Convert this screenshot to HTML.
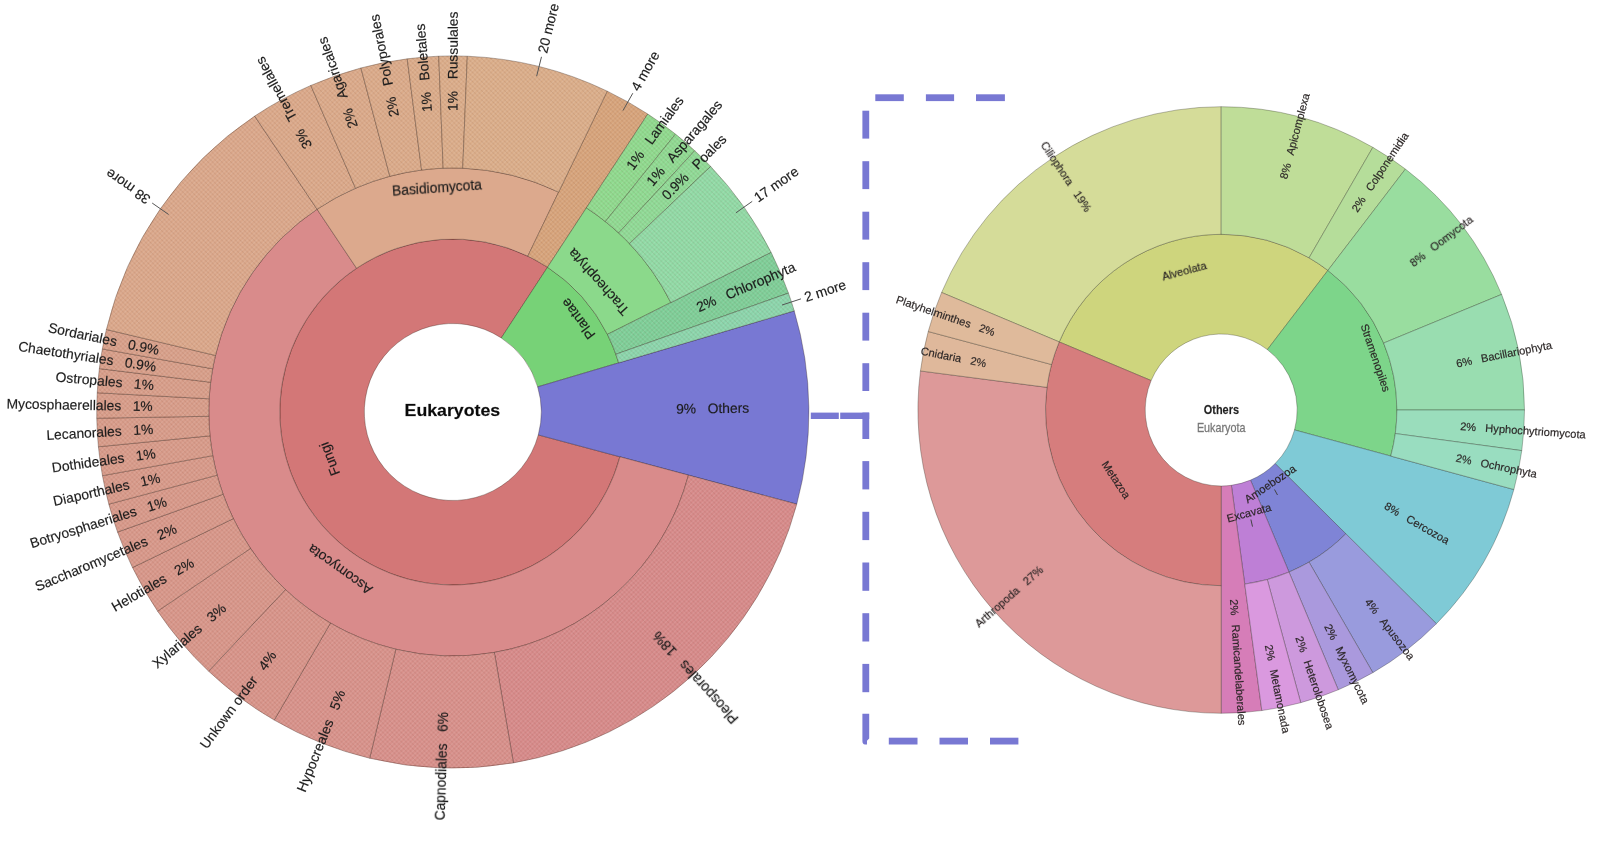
<!DOCTYPE html>
<html lang="en">
<head>
<meta charset="utf-8">
<title>Eukaryotes Krona chart</title>
<style>
html,body{margin:0;padding:0;background:#ffffff;}
body{width:1600px;height:853px;overflow:hidden;font-family:"Liberation Sans", sans-serif;}
svg{display:block;}
text{font-family:"Liberation Sans", sans-serif;paint-order:stroke;}
.lbl text{stroke:#222;stroke-opacity:0.55;stroke-width:0.3px;}
</style>
</head>
<body>
<svg width="1600" height="853" viewBox="0 0 1600 853">
<defs>
<pattern id="hatch" width="4.6" height="4.6" patternUnits="userSpaceOnUse">
<path d="M-1 3.6L1 5.6M0 0L4.6 4.6M3.6 -1L5.6 1" stroke="rgba(90,45,25,0.12)" stroke-width="1" fill="none"/>
<path d="M-1 1L1 -1M0 4.6L4.6 0M3.6 5.6L5.6 3.6" stroke="rgba(255,255,255,0.13)" stroke-width="1" fill="none"/>
</pattern>
</defs>
<rect width="1600" height="853" fill="#ffffff"/>
<g stroke="rgba(30,10,0,0.38)" stroke-width="0.8" stroke-linejoin="round">
<path d="M619.91 456.78A173.0 173.0 0 1 1 547.53 267.24L501.26 337.95A88.5 88.5 0 1 0 538.28 434.91Z" fill="#D37777"/>
<path d="M547.53 267.24A173.0 173.0 0 0 1 618.68 362.87L537.66 386.86A88.5 88.5 0 0 0 501.26 337.95Z" fill="#77D277"/>
<path d="M794.24 310.86A356.1 356.1 0 0 1 796.77 504.17L538.28 434.91A88.5 88.5 0 0 0 537.66 386.86Z" fill="#7878D3"/>
<path d="M688.49 475.15A244.0 244.0 0 1 1 317.06 209.24L356.56 268.24A173.0 173.0 0 1 0 619.91 456.78Z" fill="#D98B8B"/>
<path d="M317.06 209.24A244.0 244.0 0 0 1 558.61 192.14L527.82 256.11A173.0 173.0 0 0 0 356.56 268.24Z" fill="#DCA98D"/>
<path d="M607.23 91.13A356.1 356.1 0 0 1 647.79 114.03L547.53 267.24A173.0 173.0 0 0 0 527.82 256.11Z" fill="#D7A47B"/>
<path d="M607.23 91.13A356.1 356.1 0 0 1 647.79 114.03L547.53 267.24A173.0 173.0 0 0 0 527.82 256.11Z" fill="url(#hatch)" stroke="none"/>
<path d="M586.41 207.83A244.0 244.0 0 0 1 670.88 302.56L607.42 334.40A173.0 173.0 0 0 0 547.53 267.24Z" fill="#8BD98B"/>
<path d="M771.07 252.28A356.1 356.1 0 0 1 788.47 293.13L615.88 354.25A173.0 173.0 0 0 0 607.42 334.40Z" fill="#7DCF98"/>
<path d="M771.07 252.28A356.1 356.1 0 0 1 788.47 293.13L615.88 354.25A173.0 173.0 0 0 0 607.42 334.40Z" fill="url(#hatch)" stroke="none"/>
<path d="M788.47 293.13A356.1 356.1 0 0 1 794.24 310.86L618.68 362.87A173.0 173.0 0 0 0 615.88 354.25Z" fill="#8AD6AC"/>
<path d="M788.47 293.13A356.1 356.1 0 0 1 794.24 310.86L618.68 362.87A173.0 173.0 0 0 0 615.88 354.25Z" fill="url(#hatch)" stroke="none"/>
<path d="M796.77 504.17A356.1 356.1 0 0 1 513.41 762.90L494.33 652.44A244.0 244.0 0 0 0 688.49 475.15Z" fill="#D78A8A"/>
<path d="M796.77 504.17A356.1 356.1 0 0 1 513.41 762.90L494.33 652.44A244.0 244.0 0 0 0 688.49 475.15Z" fill="url(#hatch)" stroke="none"/>
<path d="M513.41 762.90A356.1 356.1 0 0 1 369.67 758.26L395.84 649.26A244.0 244.0 0 0 0 494.33 652.44Z" fill="#D8908B"/>
<path d="M513.41 762.90A356.1 356.1 0 0 1 369.67 758.26L395.84 649.26A244.0 244.0 0 0 0 494.33 652.44Z" fill="url(#hatch)" stroke="none"/>
<path d="M369.67 758.26A356.1 356.1 0 0 1 274.21 720.08L330.43 623.10A244.0 244.0 0 0 0 395.84 649.26Z" fill="#D8928B"/>
<path d="M369.67 758.26A356.1 356.1 0 0 1 274.21 720.08L330.43 623.10A244.0 244.0 0 0 0 395.84 649.26Z" fill="url(#hatch)" stroke="none"/>
<path d="M274.21 720.08A356.1 356.1 0 0 1 208.58 671.16L285.46 589.58A244.0 244.0 0 0 0 330.43 623.10Z" fill="#D8948A"/>
<path d="M274.21 720.08A356.1 356.1 0 0 1 208.58 671.16L285.46 589.58A244.0 244.0 0 0 0 330.43 623.10Z" fill="url(#hatch)" stroke="none"/>
<path d="M208.58 671.16A356.1 356.1 0 0 1 157.58 611.13L250.51 548.44A244.0 244.0 0 0 0 285.46 589.58Z" fill="#D8968A"/>
<path d="M208.58 671.16A356.1 356.1 0 0 1 157.58 611.13L250.51 548.44A244.0 244.0 0 0 0 285.46 589.58Z" fill="url(#hatch)" stroke="none"/>
<path d="M157.58 611.13A356.1 356.1 0 0 1 132.47 567.55L233.31 518.58A244.0 244.0 0 0 0 250.51 548.44Z" fill="#D8978A"/>
<path d="M157.58 611.13A356.1 356.1 0 0 1 132.47 567.55L233.31 518.58A244.0 244.0 0 0 0 250.51 548.44Z" fill="url(#hatch)" stroke="none"/>
<path d="M132.47 567.55A356.1 356.1 0 0 1 117.54 532.04L223.08 494.25A244.0 244.0 0 0 0 233.31 518.58Z" fill="#D8988A"/>
<path d="M132.47 567.55A356.1 356.1 0 0 1 117.54 532.04L223.08 494.25A244.0 244.0 0 0 0 233.31 518.58Z" fill="url(#hatch)" stroke="none"/>
<path d="M117.54 532.04A356.1 356.1 0 0 1 108.83 504.17L217.11 475.15A244.0 244.0 0 0 0 223.08 494.25Z" fill="#D8998A"/>
<path d="M117.54 532.04A356.1 356.1 0 0 1 108.83 504.17L217.11 475.15A244.0 244.0 0 0 0 223.08 494.25Z" fill="url(#hatch)" stroke="none"/>
<path d="M108.83 504.17A356.1 356.1 0 0 1 102.44 475.67L212.73 455.63A244.0 244.0 0 0 0 217.11 475.15Z" fill="#D89A8A"/>
<path d="M108.83 504.17A356.1 356.1 0 0 1 102.44 475.67L212.73 455.63A244.0 244.0 0 0 0 217.11 475.15Z" fill="url(#hatch)" stroke="none"/>
<path d="M102.44 475.67A356.1 356.1 0 0 1 98.40 446.75L209.96 435.81A244.0 244.0 0 0 0 212.73 455.63Z" fill="#D89B8A"/>
<path d="M102.44 475.67A356.1 356.1 0 0 1 98.40 446.75L209.96 435.81A244.0 244.0 0 0 0 212.73 455.63Z" fill="url(#hatch)" stroke="none"/>
<path d="M98.40 446.75A356.1 356.1 0 0 1 96.75 418.21L208.84 416.26A244.0 244.0 0 0 0 209.96 435.81Z" fill="#D89C8A"/>
<path d="M98.40 446.75A356.1 356.1 0 0 1 96.75 418.21L208.84 416.26A244.0 244.0 0 0 0 209.96 435.81Z" fill="url(#hatch)" stroke="none"/>
<path d="M96.75 418.21A356.1 356.1 0 0 1 97.22 392.74L209.16 398.80A244.0 244.0 0 0 0 208.84 416.26Z" fill="#D89D8A"/>
<path d="M96.75 418.21A356.1 356.1 0 0 1 97.22 392.74L209.16 398.80A244.0 244.0 0 0 0 208.84 416.26Z" fill="url(#hatch)" stroke="none"/>
<path d="M97.22 392.74A356.1 356.1 0 0 1 99.35 368.60L210.62 382.26A244.0 244.0 0 0 0 209.16 398.80Z" fill="#D89E8A"/>
<path d="M97.22 392.74A356.1 356.1 0 0 1 99.35 368.60L210.62 382.26A244.0 244.0 0 0 0 209.16 398.80Z" fill="url(#hatch)" stroke="none"/>
<path d="M99.35 368.60A356.1 356.1 0 0 1 102.33 348.94L212.66 368.79A244.0 244.0 0 0 0 210.62 382.26Z" fill="#D89F8A"/>
<path d="M99.35 368.60A356.1 356.1 0 0 1 102.33 348.94L212.66 368.79A244.0 244.0 0 0 0 210.62 382.26Z" fill="url(#hatch)" stroke="none"/>
<path d="M102.33 348.94A356.1 356.1 0 0 1 106.39 329.47L215.44 355.45A244.0 244.0 0 0 0 212.66 368.79Z" fill="#D8A08A"/>
<path d="M102.33 348.94A356.1 356.1 0 0 1 106.39 329.47L215.44 355.45A244.0 244.0 0 0 0 212.66 368.79Z" fill="url(#hatch)" stroke="none"/>
<path d="M106.39 329.47A356.1 356.1 0 0 1 254.70 116.09L317.06 209.24A244.0 244.0 0 0 0 215.44 355.45Z" fill="#DBA88B"/>
<path d="M106.39 329.47A356.1 356.1 0 0 1 254.70 116.09L317.06 209.24A244.0 244.0 0 0 0 215.44 355.45Z" fill="url(#hatch)" stroke="none"/>
<path d="M254.70 116.09A356.1 356.1 0 0 1 310.81 85.43L355.51 188.24A244.0 244.0 0 0 0 317.06 209.24Z" fill="#DBA98A"/>
<path d="M254.70 116.09A356.1 356.1 0 0 1 310.81 85.43L355.51 188.24A244.0 244.0 0 0 0 317.06 209.24Z" fill="url(#hatch)" stroke="none"/>
<path d="M310.81 85.43A356.1 356.1 0 0 1 360.93 67.95L389.85 176.26A244.0 244.0 0 0 0 355.51 188.24Z" fill="#DBAA8A"/>
<path d="M310.81 85.43A356.1 356.1 0 0 1 360.93 67.95L389.85 176.26A244.0 244.0 0 0 0 355.51 188.24Z" fill="url(#hatch)" stroke="none"/>
<path d="M360.93 67.95A356.1 356.1 0 0 1 407.24 58.83L421.59 170.00A244.0 244.0 0 0 0 389.85 176.26Z" fill="#DBAB8A"/>
<path d="M360.93 67.95A356.1 356.1 0 0 1 407.24 58.83L421.59 170.00A244.0 244.0 0 0 0 389.85 176.26Z" fill="url(#hatch)" stroke="none"/>
<path d="M407.24 58.83A356.1 356.1 0 0 1 438.76 56.18L443.18 168.19A244.0 244.0 0 0 0 421.59 170.00Z" fill="#DBAC8A"/>
<path d="M407.24 58.83A356.1 356.1 0 0 1 438.76 56.18L443.18 168.19A244.0 244.0 0 0 0 421.59 170.00Z" fill="url(#hatch)" stroke="none"/>
<path d="M438.76 56.18A356.1 356.1 0 0 1 467.34 56.20L462.76 168.20A244.0 244.0 0 0 0 443.18 168.19Z" fill="#DBAD8A"/>
<path d="M438.76 56.18A356.1 356.1 0 0 1 467.34 56.20L462.76 168.20A244.0 244.0 0 0 0 443.18 168.19Z" fill="url(#hatch)" stroke="none"/>
<path d="M467.34 56.20A356.1 356.1 0 0 1 607.23 91.13L558.61 192.14A244.0 244.0 0 0 0 462.76 168.20Z" fill="#DBAE8A"/>
<path d="M467.34 56.20A356.1 356.1 0 0 1 607.23 91.13L558.61 192.14A244.0 244.0 0 0 0 462.76 168.20Z" fill="url(#hatch)" stroke="none"/>
<path d="M647.79 114.03A356.1 356.1 0 0 1 675.45 134.09L605.36 221.57A244.0 244.0 0 0 0 586.41 207.83Z" fill="#8EDB8E"/>
<path d="M647.79 114.03A356.1 356.1 0 0 1 675.45 134.09L605.36 221.57A244.0 244.0 0 0 0 586.41 207.83Z" fill="url(#hatch)" stroke="none"/>
<path d="M675.45 134.09A356.1 356.1 0 0 1 694.75 150.72L618.58 232.97A244.0 244.0 0 0 0 605.36 221.57Z" fill="#8EDB92"/>
<path d="M675.45 134.09A356.1 356.1 0 0 1 694.75 150.72L618.58 232.97A244.0 244.0 0 0 0 605.36 221.57Z" fill="url(#hatch)" stroke="none"/>
<path d="M694.75 150.72A356.1 356.1 0 0 1 710.68 166.43L629.50 243.73A244.0 244.0 0 0 0 618.58 232.97Z" fill="#8EDB96"/>
<path d="M694.75 150.72A356.1 356.1 0 0 1 710.68 166.43L629.50 243.73A244.0 244.0 0 0 0 618.58 232.97Z" fill="url(#hatch)" stroke="none"/>
<path d="M710.68 166.43A356.1 356.1 0 0 1 771.07 252.28L670.88 302.56A244.0 244.0 0 0 0 629.50 243.73Z" fill="#90DBA6"/>
<path d="M710.68 166.43A356.1 356.1 0 0 1 771.07 252.28L670.88 302.56A244.0 244.0 0 0 0 629.50 243.73Z" fill="url(#hatch)" stroke="none"/>
</g>
<g class="lbl" font-family='"Liberation Sans", sans-serif' opacity="0.999">
<text transform="translate(452.8 412.0) rotate(249.10)" x="0" y="-132.0" dy="0.36em" font-size="13.85" fill="#1c1c1c" text-anchor="middle">Fungi</text>
<text transform="translate(452.8 412.0) rotate(233.35)" x="0" y="156.0" dy="0.36em" font-size="13.85" fill="#1c1c1c" text-anchor="middle">Plantae</text>
<text transform="translate(452.8 412.0) rotate(359.25)" x="223.3" y="0" dy="0.33em" font-size="13.85" fill="#1c1c1c" text-anchor="start" xml:space="preserve">9%   Others</text>
<text transform="translate(452.8 412.0) rotate(215.60)" x="0" y="-194.0" dy="0.36em" font-size="13.85" fill="#1c1c1c" text-anchor="middle">Ascomycota</text>
<text transform="translate(452.8 412.0) rotate(355.95)" x="0" y="-225.0" dy="0.36em" font-size="13.85" fill="#1c1c1c" text-anchor="middle">Basidiomycota</text>
<line x1="622.96" y1="110.62" x2="632.80" y2="93.21" stroke="#555" stroke-width="1"/>
<text transform="translate(452.8 412.0) rotate(299.45)" x="370.1" y="0" dy="0.33em" font-size="13.85" fill="#1c1c1c" text-anchor="start" xml:space="preserve">4 more</text>
<text transform="translate(452.8 412.0) rotate(228.27)" x="0" y="195.0" dy="0.36em" font-size="13.85" fill="#1c1c1c" text-anchor="middle">Tracheophyta</text>
<text transform="translate(452.8 412.0) rotate(336.93)" x="265.6" y="0" dy="0.33em" font-size="13.85" fill="#1c1c1c" text-anchor="start" xml:space="preserve">2%   Chlorophyta</text>
<line x1="781.96" y1="305.05" x2="800.98" y2="298.87" stroke="#555" stroke-width="1"/>
<text transform="translate(452.8 412.0) rotate(342.00)" x="370.1" y="0" dy="0.33em" font-size="13.85" fill="#1c1c1c" text-anchor="start" xml:space="preserve">2 more</text>
<text transform="translate(452.8 412.0) rotate(227.60)" x="-300.1" y="0" dy="0.33em" font-size="13.85" fill="#1c1c1c" text-anchor="end" xml:space="preserve">Pleosporales   18%</text>
<text transform="translate(452.8 412.0) rotate(271.85)" x="-300.1" y="0" dy="0.33em" font-size="13.85" fill="#1c1c1c" text-anchor="end" xml:space="preserve">Capnodiales   6%</text>
<text transform="translate(452.8 412.0) rotate(291.80)" x="-300.1" y="0" dy="0.33em" font-size="13.85" fill="#1c1c1c" text-anchor="end" xml:space="preserve">Hypocreales   5%</text>
<text transform="translate(452.8 412.0) rotate(306.70)" x="-300.1" y="0" dy="0.33em" font-size="13.85" fill="#1c1c1c" text-anchor="end" xml:space="preserve">Unkown order   4%</text>
<text transform="translate(452.8 412.0) rotate(319.65)" x="-300.1" y="0" dy="0.33em" font-size="13.85" fill="#1c1c1c" text-anchor="end" xml:space="preserve">Xylariales   3%</text>
<text transform="translate(452.8 412.0) rotate(330.05)" x="-300.1" y="0" dy="0.33em" font-size="13.85" fill="#1c1c1c" text-anchor="end" xml:space="preserve">Helotiales   2%</text>
<text transform="translate(452.8 412.0) rotate(337.20)" x="-300.1" y="0" dy="0.33em" font-size="13.85" fill="#1c1c1c" text-anchor="end" xml:space="preserve">Saccharomycetales   2%</text>
<text transform="translate(452.8 412.0) rotate(342.65)" x="-300.1" y="0" dy="0.33em" font-size="13.85" fill="#1c1c1c" text-anchor="end" xml:space="preserve">Botryosphaeriales   1%</text>
<text transform="translate(452.8 412.0) rotate(347.35)" x="-300.1" y="0" dy="0.33em" font-size="13.85" fill="#1c1c1c" text-anchor="end" xml:space="preserve">Diaporthales   1%</text>
<text transform="translate(452.8 412.0) rotate(352.05)" x="-300.1" y="0" dy="0.33em" font-size="13.85" fill="#1c1c1c" text-anchor="end" xml:space="preserve">Dothideales   1%</text>
<text transform="translate(452.8 412.0) rotate(356.70)" x="-300.1" y="0" dy="0.33em" font-size="13.85" fill="#1c1c1c" text-anchor="end" xml:space="preserve">Lecanorales   1%</text>
<text transform="translate(452.8 412.0) rotate(361.05)" x="-300.1" y="0" dy="0.33em" font-size="13.85" fill="#1c1c1c" text-anchor="end" xml:space="preserve">Mycosphaerellales   1%</text>
<text transform="translate(452.8 412.0) rotate(365.05)" x="-300.1" y="0" dy="0.33em" font-size="13.85" fill="#1c1c1c" text-anchor="end" xml:space="preserve">Ostropales   1%</text>
<text transform="translate(452.8 412.0) rotate(368.60)" x="-300.1" y="0" dy="0.33em" font-size="13.85" fill="#1c1c1c" text-anchor="end" xml:space="preserve">Chaetothyriales   0.9%</text>
<text transform="translate(452.8 412.0) rotate(371.80)" x="-300.1" y="0" dy="0.33em" font-size="13.85" fill="#1c1c1c" text-anchor="end" xml:space="preserve">Sordariales   0.9%</text>
<line x1="168.60" y1="214.48" x2="152.18" y2="203.06" stroke="#555" stroke-width="1"/>
<text transform="translate(452.8 412.0) rotate(214.80)" x="370.1" y="0" dy="0.33em" font-size="13.85" fill="#1c1c1c" text-anchor="start" xml:space="preserve">38 more</text>
<text transform="translate(452.8 412.0) rotate(241.35)" x="301.1" y="0" dy="0.33em" font-size="13.85" fill="#1c1c1c" text-anchor="start" xml:space="preserve">3%   Tremellales</text>
<text transform="translate(452.8 412.0) rotate(250.78)" x="301.1" y="0" dy="0.33em" font-size="13.85" fill="#1c1c1c" text-anchor="start" xml:space="preserve">2%   Agaricales</text>
<text transform="translate(452.8 412.0) rotate(258.85)" x="301.1" y="0" dy="0.33em" font-size="13.85" fill="#1c1c1c" text-anchor="start" xml:space="preserve">2%   Polyporales</text>
<text transform="translate(452.8 412.0) rotate(265.19)" x="301.1" y="0" dy="0.33em" font-size="13.85" fill="#1c1c1c" text-anchor="start" xml:space="preserve">1%   Boletales</text>
<text transform="translate(452.8 412.0) rotate(270.04)" x="301.1" y="0" dy="0.33em" font-size="13.85" fill="#1c1c1c" text-anchor="start" xml:space="preserve">1%   Russulales</text>
<line x1="536.65" y1="76.21" x2="541.49" y2="56.81" stroke="#555" stroke-width="1"/>
<text transform="translate(452.8 412.0) rotate(284.02)" x="370.1" y="0" dy="0.33em" font-size="13.85" fill="#1c1c1c" text-anchor="start" xml:space="preserve">20 more</text>
<text transform="translate(452.8 412.0) rotate(305.95)" x="301.1" y="0" dy="0.33em" font-size="13.85" fill="#1c1c1c" text-anchor="start" xml:space="preserve">1%   Lamiales</text>
<text transform="translate(452.8 412.0) rotate(310.75)" x="301.1" y="0" dy="0.33em" font-size="13.85" fill="#1c1c1c" text-anchor="start" xml:space="preserve">1%   Asparagales</text>
<text transform="translate(452.8 412.0) rotate(314.60)" x="301.1" y="0" dy="0.33em" font-size="13.85" fill="#1c1c1c" text-anchor="start" xml:space="preserve">0.9%   Poales</text>
<line x1="735.87" y1="212.87" x2="752.23" y2="201.36" stroke="#555" stroke-width="1"/>
<text transform="translate(452.8 412.0) rotate(324.88)" x="370.1" y="0" dy="0.33em" font-size="13.85" fill="#1c1c1c" text-anchor="start" xml:space="preserve">17 more</text>
<text x="404.6" y="416.1" font-size="16.2" font-weight="bold" fill="#0a0a0a" textLength="95.6" lengthAdjust="spacingAndGlyphs">Eukaryotes</text>
</g>
<g fill="#7878D3">
<rect x="810.8" y="412.6" width="28" height="6.4"/>
<rect x="840.2" y="412.6" width="29" height="6.4"/>
<rect x="862.4" y="110.7" width="6.8" height="27.9"/>
<rect x="862.4" y="161.2" width="6.8" height="27.9"/>
<rect x="862.4" y="211.7" width="6.8" height="27.9"/>
<rect x="862.4" y="262.2" width="6.8" height="27.9"/>
<rect x="862.4" y="312.7" width="6.8" height="27.9"/>
<rect x="862.4" y="363.2" width="6.8" height="27.8"/>
<rect x="862.4" y="412.6" width="6.8" height="26.4"/>
<rect x="862.4" y="461.1" width="6.8" height="28.3"/>
<rect x="862.4" y="511.8" width="6.8" height="28.3"/>
<rect x="862.4" y="562.5" width="6.8" height="28.3"/>
<rect x="862.4" y="613.2" width="6.8" height="28.3"/>
<rect x="862.4" y="663.9" width="6.8" height="28.3"/>
<path d="M862.4 713.8H869.2V738.5L867 740.8V744.5H865Q862.4 744.2 862.4 741Z"/>
<rect x="875.3" y="94.3" width="28.5" height="6.8"/>
<rect x="925.9" y="94.3" width="28.2" height="6.8"/>
<rect x="976.0" y="94.3" width="28.9" height="6.8"/>
<rect x="888.8" y="737.7" width="28.7" height="6.8"/>
<rect x="939.5" y="737.7" width="28.5" height="6.8"/>
<rect x="990.0" y="737.7" width="28.4" height="6.8"/>
</g>
<g stroke="rgba(20,20,10,0.36)" stroke-width="0.8" stroke-linejoin="round">
<path d="M1059.23 341.91A175.7 175.7 0 0 1 1327.92 270.42L1267.36 349.62A76.0 76.0 0 0 0 1151.14 380.55Z" fill="#CED57D"/>
<path d="M1327.92 270.42A175.7 175.7 0 0 1 1390.75 456.07L1294.54 429.93A76.0 76.0 0 0 0 1267.36 349.62Z" fill="#7DD58A"/>
<path d="M1513.89 489.52A303.3 303.3 0 0 1 1436.41 623.72L1275.13 463.55A76.0 76.0 0 0 0 1294.54 429.93Z" fill="#7FCAD6"/>
<path d="M1345.87 533.80A175.7 175.7 0 0 1 1289.00 572.09L1250.53 480.11A76.0 76.0 0 0 0 1275.13 463.55Z" fill="#7F84D6"/>
<path d="M1289.00 572.09A175.7 175.7 0 0 1 1244.74 584.12L1231.38 485.31A76.0 76.0 0 0 0 1250.53 480.11Z" fill="#BE7FD6"/>
<path d="M1261.84 710.57A303.3 303.3 0 0 1 1221.20 713.30L1221.20 486.00A76.0 76.0 0 0 0 1231.38 485.31Z" fill="#D67DB8"/>
<path d="M1221.20 585.70A175.7 175.7 0 0 1 1059.23 341.91L1151.14 380.55A76.0 76.0 0 0 0 1221.20 486.00Z" fill="#D67D7D"/>
<path d="M941.60 292.47A303.3 303.3 0 0 1 1221.20 106.70L1221.20 234.30A175.7 175.7 0 0 0 1059.23 341.91Z" fill="#D5DC99"/>
<path d="M1221.20 106.70A303.3 303.3 0 0 1 1372.85 147.33L1309.05 257.84A175.7 175.7 0 0 0 1221.20 234.30Z" fill="#BFDD98"/>
<path d="M1372.85 147.33A303.3 303.3 0 0 1 1405.42 169.05L1327.92 270.42A175.7 175.7 0 0 0 1309.05 257.84Z" fill="#B5DD9A"/>
<path d="M1405.42 169.05A303.3 303.3 0 0 1 1501.61 294.42L1383.64 343.05A175.7 175.7 0 0 0 1327.92 270.42Z" fill="#99DD9F"/>
<path d="M1501.61 294.42A303.3 303.3 0 0 1 1524.50 410.00L1396.90 410.00A175.7 175.7 0 0 0 1383.64 343.05Z" fill="#99DDB0"/>
<path d="M1524.50 410.00A303.3 303.3 0 0 1 1521.77 450.64L1395.32 433.54A175.7 175.7 0 0 0 1396.90 410.00Z" fill="#9ADDBC"/>
<path d="M1521.77 450.64A303.3 303.3 0 0 1 1513.89 489.52L1390.75 456.07A175.7 175.7 0 0 0 1395.32 433.54Z" fill="#99DDC0"/>
<path d="M1436.41 623.72A303.3 303.3 0 0 1 1372.85 672.67L1309.05 562.16A175.7 175.7 0 0 0 1345.87 533.80Z" fill="#999BDD"/>
<path d="M1372.85 672.67A303.3 303.3 0 0 1 1338.25 689.81L1289.00 572.09A175.7 175.7 0 0 0 1309.05 562.16Z" fill="#AA99DD"/>
<path d="M1338.25 689.81A303.3 303.3 0 0 1 1300.72 702.69L1267.27 579.55A175.7 175.7 0 0 0 1289.00 572.09Z" fill="#CD99DD"/>
<path d="M1300.72 702.69A303.3 303.3 0 0 1 1261.84 710.57L1244.74 584.12A175.7 175.7 0 0 0 1267.27 579.55Z" fill="#DA99DF"/>
<path d="M1221.20 713.30A303.3 303.3 0 0 1 920.43 370.94L1046.96 387.37A175.7 175.7 0 0 0 1221.20 585.70Z" fill="#DD9999"/>
<path d="M920.43 370.94A303.3 303.3 0 0 1 928.23 331.50L1051.49 364.53A175.7 175.7 0 0 0 1046.96 387.37Z" fill="#DFB89B"/>
<path d="M928.23 331.50A303.3 303.3 0 0 1 941.60 292.47L1059.23 341.91A175.7 175.7 0 0 0 1051.49 364.53Z" fill="#DFBA9B"/>
</g>
<g class="lbl" font-family='"Liberation Sans", sans-serif' opacity="0.999">
<text transform="translate(1221.2 410.0) rotate(345.10)" x="0" y="-144.0" dy="0.36em" font-size="11.1" fill="#2c2626" text-anchor="middle">Alveolata</text>
<text transform="translate(1221.2 410.0) rotate(431.30)" x="0" y="-163.0" dy="0.36em" font-size="11.1" fill="#2c2626" text-anchor="middle">Stramenopiles</text>
<text transform="translate(1221.2 410.0) rotate(30.00)" x="189.7" y="0" dy="0.36em" font-size="11.1" fill="#2c2626" text-anchor="start" xml:space="preserve">8%   Cercozoa</text>
<text transform="translate(1221.2 410.0) rotate(86.15)" x="189.7" y="0" dy="0.36em" font-size="11.1" fill="#2c2626" text-anchor="start" xml:space="preserve">2%   Ramicandelaberales</text>
<text transform="translate(1221.2 410.0) rotate(56.40)" x="0" y="126.0" dy="0.36em" font-size="11.1" fill="#2c2626" text-anchor="middle">Metazoa</text>
<text transform="translate(1221.2 410.0) rotate(416.40)" x="-239.5" y="0" dy="0.36em" font-size="11.1" fill="#2c2626" text-anchor="end" xml:space="preserve">Ciliophora   19%</text>
<text transform="translate(1221.2 410.0) rotate(285.00)" x="239.5" y="0" dy="0.36em" font-size="11.1" fill="#2c2626" text-anchor="start" xml:space="preserve">8%   Apicomplexa</text>
<text transform="translate(1221.2 410.0) rotate(303.70)" x="239.5" y="0" dy="0.36em" font-size="11.1" fill="#2c2626" text-anchor="start" xml:space="preserve">2%   Colponemidia</text>
<text transform="translate(1221.2 410.0) rotate(322.50)" x="239.5" y="0" dy="0.36em" font-size="11.1" fill="#2c2626" text-anchor="start" xml:space="preserve">8%   Oomycota</text>
<text transform="translate(1221.2 410.0) rotate(348.80)" x="239.5" y="0" dy="0.36em" font-size="11.1" fill="#2c2626" text-anchor="start" xml:space="preserve">6%   Bacillariophyta</text>
<text transform="translate(1221.2 410.0) rotate(3.85)" x="239.5" y="0" dy="0.36em" font-size="11.1" fill="#2c2626" text-anchor="start" xml:space="preserve">2%   Hyphochytriomycota</text>
<text transform="translate(1221.2 410.0) rotate(11.45)" x="239.5" y="0" dy="0.36em" font-size="11.1" fill="#2c2626" text-anchor="start" xml:space="preserve">2%   Ochrophyta</text>
<text transform="translate(1221.2 410.0) rotate(52.40)" x="239.5" y="0" dy="0.36em" font-size="11.1" fill="#2c2626" text-anchor="start" xml:space="preserve">4%   Apusozoa</text>
<text transform="translate(1221.2 410.0) rotate(63.65)" x="239.5" y="0" dy="0.36em" font-size="11.1" fill="#2c2626" text-anchor="start" xml:space="preserve">2%   Myxomycota</text>
<text transform="translate(1221.2 410.0) rotate(71.05)" x="239.5" y="0" dy="0.36em" font-size="11.1" fill="#2c2626" text-anchor="start" xml:space="preserve">2%   Heterolobosea</text>
<text transform="translate(1221.2 410.0) rotate(78.55)" x="239.5" y="0" dy="0.36em" font-size="11.1" fill="#2c2626" text-anchor="start" xml:space="preserve">2%   Metamonada</text>
<text transform="translate(1221.2 410.0) rotate(318.70)" x="-239.5" y="0" dy="0.36em" font-size="11.1" fill="#2c2626" text-anchor="end" xml:space="preserve">Arthropoda   27%</text>
<text transform="translate(1221.2 410.0) rotate(371.20)" x="-239.5" y="0" dy="0.36em" font-size="11.1" fill="#2c2626" text-anchor="end" xml:space="preserve">Cnidaria   2%</text>
<text transform="translate(1221.2 410.0) rotate(378.90)" x="-239.5" y="0" dy="0.36em" font-size="11.1" fill="#2c2626" text-anchor="end" xml:space="preserve">Platyhelminthes   2%</text>
<text transform="translate(1272.3 487) rotate(-34)" font-size="11.1" fill="#2c2626" text-anchor="middle">Amoebozoa</text>
<text transform="translate(1250 516.5) rotate(-15.2)" font-size="11.1" fill="#2c2626" text-anchor="middle">Excavata</text>
<line x1="1274.5" y1="489.5" x2="1277.5" y2="495" stroke="#444" stroke-width="1"/>
<line x1="1250.9" y1="519.5" x2="1252.5" y2="526.6" stroke="#444" stroke-width="1"/>
<text x="1203.8" y="413.5" font-size="12.5" font-weight="bold" fill="#222" textLength="35.2" lengthAdjust="spacingAndGlyphs">Others</text>
<text x="1196.9" y="431.6" font-size="12.7" fill="#777" textLength="48.5" lengthAdjust="spacingAndGlyphs">Eukaryota</text>
</g>
</svg>
</body>
</html>
